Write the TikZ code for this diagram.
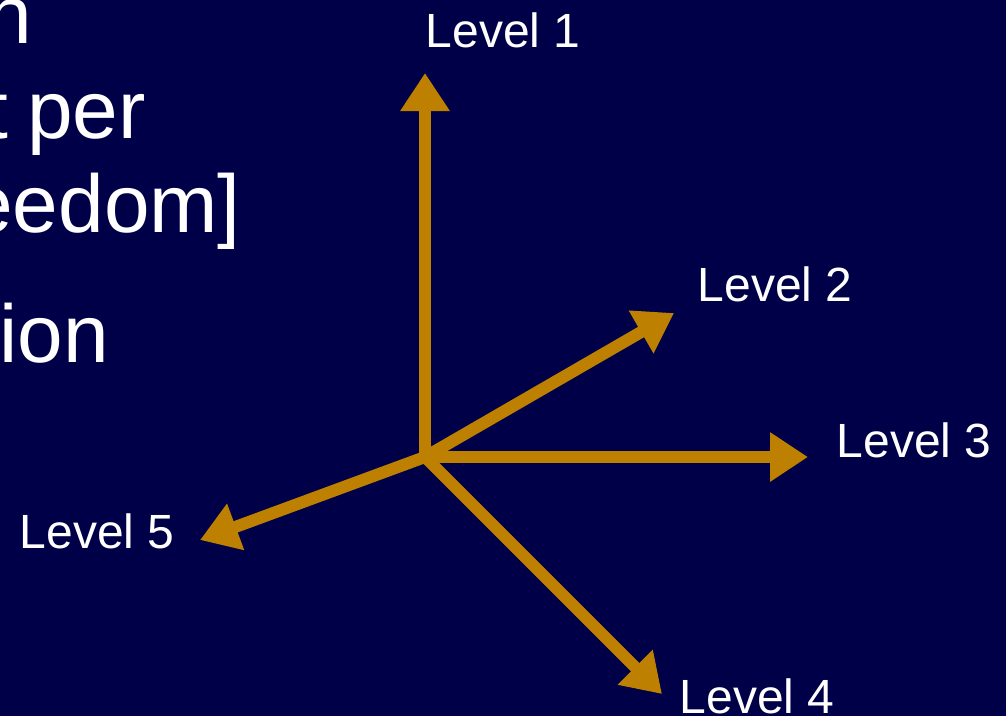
\documentclass[tikz,border=0pt]{standalone}
\usepackage{fontspec}
\setmainfont{Liberation Sans}
\usetikzlibrary{arrows.meta}
\definecolor{bgnavy}{RGB}{0,0,72}
\definecolor{gold}{RGB}{190,128,0}
\tikzset{
  axis/.style={draw=gold, line width=12pt, -{Triangle[length=38pt,width=47pt]}},
  lvl/.style={text=white, inner sep=0pt, anchor=base west, font=\fontsize{48}{56}\selectfont},
  big/.style={text=white, inner sep=0pt, anchor=base east, font=\fontsize{82}{94}\selectfont}
}
\begin{document}
\begin{tikzpicture}[x=1pt,y=-1pt]
\useasboundingbox (0,0) rectangle (1006,716);
\clip (0,0) rectangle (1006,716);
\fill[bgnavy] (0,0) rectangle (1006,716);
% left partial text
\node[big] (t1) at (32,43) {n};
\node[big] (t2) at (146,138) {t\hspace{-4pt} per};
\node[big] (t3) at (241,232) {eedom]};
\node[big] (t4) at (109,362) {ion};
% axes
\coordinate (o) at (425,457);
\coordinate (e1) at (425,73);
\coordinate (e2) at (674,313);
\coordinate (e3) at (808,457);
\coordinate (e4) at (662,694);
\coordinate (e5) at (200,540);
\draw[axis] (o) -- (e1);
\draw[axis] (o) -- (e2);
\draw[axis] (o) -- (e3);
\draw[axis] (o) -- (e4);
\draw[axis] (o) -- (e5);
% labels
\node[lvl] (l1) at (425.5,47) {Level 1};
\node[lvl] (l2) at (697.5,301) {Level 2};
\node[lvl] (l3) at (836.5,457) {Level 3};
\node[lvl] (l4) at (679.5,713) {Level 4};
\node[lvl] (l5) at (19.5,548) {Level 5};
\end{tikzpicture}
\end{document}
